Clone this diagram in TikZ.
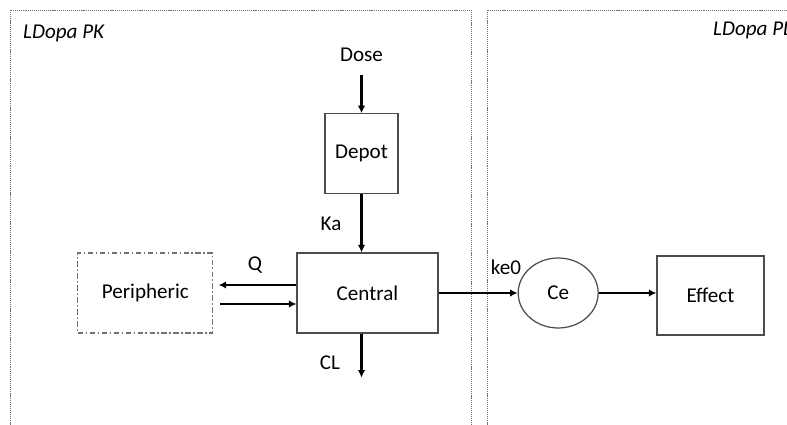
\documentclass[tikz,border=0pt]{standalone}
\usepackage{fontspec}
\setmainfont{Carlito}
\usepackage{tikz}
\usetikzlibrary{shapes, arrows.meta, positioning, calc}

\begin{document}
\begin{tikzpicture}[x=0.02cm, y=-0.02cm, font=\fontsize{12}{14}\selectfont]
  \tikzstyle{box}=[draw=black!70, line width=0.7pt, align=center, inner sep=2pt]
  \tikzstyle{compnode}=[box, minimum width=2.82cm, minimum height=1.6cm]
  \tikzstyle{perinode}=[compnode, draw=black!55, minimum width=2.7cm, dash pattern=on 3pt off 1.5pt on 0.8pt off 1.5pt]
  \tikzstyle{effnode}=[box, ellipse, minimum width=1.6cm, minimum height=1.4cm]
  \tikzstyle{outnode}=[box, minimum width=2.14cm, minimum height=1.58cm]
  \tikzstyle{frame}=[draw=black!55, line width=0.5pt, dash pattern=on 0.6pt off 0.5pt]
  \tikzstyle{flow}=[line width=1.5pt, -{Latex[length=1.5mm, width=1.5mm]}]

  \useasboundingbox (0,0) rectangle (787,425);

  % model frames
  \begin{scope}
    \clip (0,0) rectangle (787,425);
    \draw[frame] (10,440) -- (10,10) -- (471,10) -- (471,440);
    \draw[frame] (487,440) -- (487,10) -- (800,10);
  \end{scope}
  \node[anchor=west, font=\itshape\fontsize{12}{14}\selectfont] (pk_title) at (17,33) {LDopa PK};
  \node[anchor=west, font=\itshape\fontsize{12}{14}\selectfont] (pd_title) at (707,30) {LDopa PD};

  % PK compartments
  \node[compnode] (central) at (367.5,293) {Central};
  \node[box, minimum width=1.46cm, minimum height=1.6cm, above=1.16cm of central, xshift=-0.12cm] (depot) {Depot};
  \node[above=0.9cm of depot] (dose) {Dose};
  \node[perinode, left=1.66cm of central] (peri) {Peripheric};
  \coordinate (cl_end) at ($(depot.south |- central.south)+(0,44)$);

  % PD part
  \node[effnode, right=1.58cm of central] (ce) {Ce};
  \node[outnode] (effect) at (710.5,295.5) {Effect};

  % labels
  \node (ka) at (331,224) {Ka};
  \node (q) at (255,265) {Q};
  \node (cl) at (330,363) {CL};
  \node (ke0) at (506,267) {ke0};

  % arrows
  \draw[flow, shorten <=0.14cm] (dose.south) -- (depot.north);
  \draw[flow] (depot.south) -- (depot.south |- central.north);
  \draw[flow] ([yshift=0.16cm]central.west) -- ([yshift=0.16cm, xshift=3pt]peri.east);
  \draw[flow] ([yshift=-0.22cm, xshift=4pt]peri.east) -- ([yshift=-0.22cm]central.west);
  \draw[flow] (depot.south |- central.south) -- (cl_end);
  \draw[flow] (central.east) -- (ce.west);
  \draw[flow] (ce.east) -- (ce.east -| effect.west);

\end{tikzpicture}
\end{document}
